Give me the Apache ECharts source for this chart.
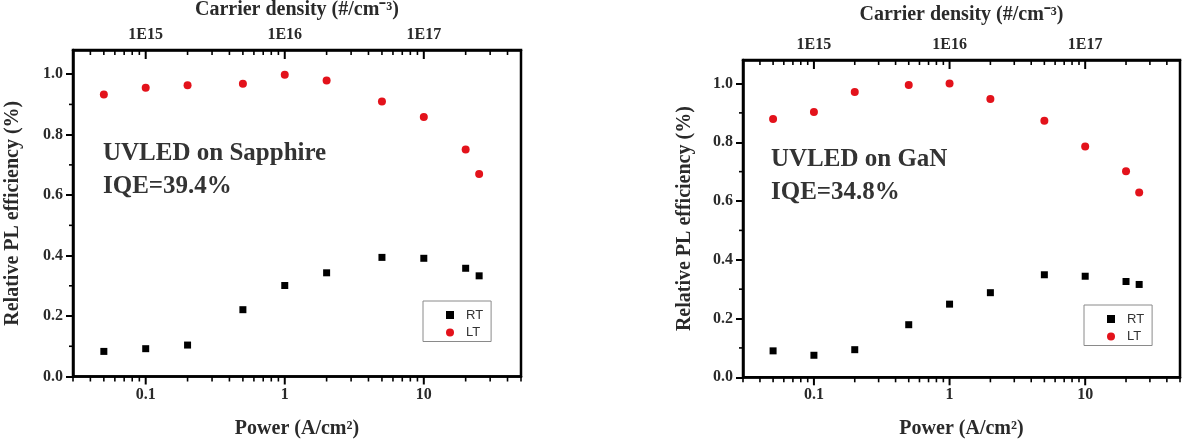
<!DOCTYPE html>
<html>
<head>
<meta charset="utf-8">
<script src="https://cdn.jsdelivr.net/npm/echarts@6.0.0/dist/echarts.min.js"></script>
<style>
  html, body { margin: 0; background: #fff; }
  #chart { width: 1191px; height: 444px; }
</style>
</head>
<body>
<div id="chart"></div>
<script>
// excitation power (A/cm2), same for both samples
const power = [0.05, 0.1, 0.2, 0.5, 1, 2, 5, 10, 20, 25];

// relative PL efficiency, RT = room temp, LT = low temp
const sapphireRT = [0.083, 0.092, 0.104, 0.221, 0.301, 0.343, 0.394, 0.391, 0.358, 0.333];
const sapphireLT = [0.933, 0.955, 0.963, 0.968, 0.998, 0.979, 0.910, 0.858, 0.751, 0.670];
const ganRT = [0.090, 0.075, 0.094, 0.179, 0.249, 0.288, 0.349, 0.344, 0.326, 0.316];
const ganLT = [0.879, 0.903, 0.971, 0.995, 1.0, 0.947, 0.873, 0.786, 0.701, 0.629];

// ticks
const powerTicks = [0.1, 1, 10];
const powerMinorTicks = [0.03, 0.04, 0.05, 0.06, 0.07, 0.08, 0.09,
  0.2, 0.3, 0.4, 0.5, 0.6, 0.7, 0.8, 0.9,
  2, 3, 4, 5, 6, 7, 8, 9,
  20, 30, 40, 50];
const yTicks = [0, 0.2, 0.4, 0.6, 0.8, 1.0];
const yMinorTicks = [0.1, 0.3, 0.5, 0.7, 0.9];

// top axis: carrier density per unit power (#/cm3 per A/cm2)
const densityPerPower = 1e16;

const X_MIN = 0.03, X_MAX = 50, Y_MAX = 1.08;
const SERIF = 'Liberation Serif';
const RED = '#e3121b';

const panels = [
  {
    grid: { left: 73, right: 670, top: 50, bottom: 67.5 },
    rt: sapphireRT, lt: sapphireLT, yNameGap: 50, topNameGap: 30,
    note: 'UVLED on Sapphire\nIQE=39.4%', noteLeft: 103, noteTop: 137,
    legendLeft: 423, legendTop: 301
  },
  {
    grid: { left: 743, right: 11, top: 60, bottom: 66.7 },
    rt: ganRT, lt: ganLT, yNameGap: 48, topNameGap: 35,
    note: 'UVLED on GaN\nIQE=34.8%', noteLeft: 771, noteTop: 143,
    legendLeft: 1084, legendTop: 305
  }
];

const labelStyle = { fontFamily: SERIF, fontWeight: 'bold', fontSize: 16, color: '#2a2a2a' };
const nameStyle = { fontFamily: SERIF, fontWeight: 'bold', fontSize: 20, color: '#2a2a2a' };

function isDecade(v) {
  const e = Math.log10(v);
  return Math.abs(e - Math.round(e)) < 1e-6;
}

// draws bottom (outward) and top (inward) x ticks
function renderXTicks(params, api) {
  const v = api.value(0);
  const major = api.value(1) === 1;
  const b = api.coord([v, 0]);
  const t = api.coord([v, Y_MAX]);
  const st = { stroke: '#000', lineWidth: major ? 2 : 1.6 };
  return {
    type: 'group',
    children: [
      { type: 'line', shape: { x1: b[0], y1: b[1], x2: b[0], y2: b[1] + (major ? 8 : 5) }, style: st },
      { type: 'line', shape: { x1: t[0], y1: t[1], x2: t[0], y2: t[1] + (major ? 9 : 5) }, style: st }
    ]
  };
}

// minor ticks on the left y axis
function renderYTicks(params, api) {
  const p = api.coord([X_MIN, api.value(1)]);
  return {
    type: 'line',
    shape: { x1: p[0], y1: p[1], x2: p[0] - 4, y2: p[1] },
    style: { stroke: '#000', lineWidth: 1.6 }
  };
}

const grid = [], xAxis = [], yAxis = [], series = [], legend = [], graphic = [];

panels.forEach((p, i) => {
  grid.push(Object.assign({
    show: true, borderColor: '#000', borderWidth: 2.5, backgroundColor: 'transparent',
    outerBoundsMode: 'none', containLabel: false
  }, p.grid));

  // bottom: power
  xAxis.push({
    type: 'log', gridIndex: i, position: 'bottom', min: X_MIN, max: X_MAX,
    name: 'Power (A/cm²)', nameLocation: 'middle', nameGap: 42, nameTextStyle: nameStyle,
    axisLine: { lineStyle: { color: '#000', width: 2.5 } },
    axisTick: { show: false },
    splitLine: { show: false },
    axisLabel: Object.assign({
      margin: 10,
      formatter: v => isDecade(v) ? String(+v.toPrecision(6)) : ''
    }, labelStyle)
  });
  // top: carrier density
  xAxis.push({
    type: 'log', gridIndex: i, position: 'top',
    min: X_MIN * densityPerPower, max: X_MAX * densityPerPower,
    name: 'Carrier density (#/cm⁻³)', nameLocation: 'middle', nameGap: p.topNameGap, nameTextStyle: nameStyle,
    axisLine: { lineStyle: { color: '#000', width: 2.5 } },
    axisTick: { show: false },
    splitLine: { show: false },
    axisLabel: Object.assign({
      margin: 7,
      formatter: v => isDecade(v) ? '1E' + Math.round(Math.log10(v)) : ''
    }, labelStyle)
  });

  yAxis.push({
    type: 'value', gridIndex: i, min: 0, max: Y_MAX,
    name: 'Relative PL efficiency (%)', nameLocation: 'middle', nameGap: p.yNameGap,
    nameRotate: 90, nameTextStyle: nameStyle,
    axisLine: { show: true, lineStyle: { color: '#000', width: 2.5 } },
    axisTick: { show: true, customValues: yTicks, length: 7, lineStyle: { color: '#000', width: 2 } },
    splitLine: { show: false },
    axisLabel: Object.assign({
      customValues: yTicks, margin: 10,
      formatter: v => v.toFixed(1)
    }, labelStyle)
  });

  series.push({
    name: 'RT', type: 'scatter', xAxisIndex: i * 2, yAxisIndex: i,
    symbol: 'rect', symbolSize: 7, itemStyle: { color: '#000', opacity: 1 },
    data: power.map((x, k) => [x, p.rt[k]])
  });
  series.push({
    name: 'LT', type: 'scatter', xAxisIndex: i * 2, yAxisIndex: i,
    symbol: 'circle', symbolSize: 8, itemStyle: { color: RED, opacity: 1 },
    data: power.map((x, k) => [x, p.lt[k]])
  });
  series.push({
    type: 'custom', xAxisIndex: i * 2, yAxisIndex: i, clip: false, z: 10, silent: true,
    renderItem: renderXTicks,
    data: powerTicks.map(v => [v, 1]).concat(powerMinorTicks.map(v => [v, 0]))
  });
  series.push({
    type: 'custom', xAxisIndex: i * 2, yAxisIndex: i, clip: false, z: 10, silent: true,
    renderItem: renderYTicks,
    data: yMinorTicks.map(v => [X_MIN, v])
  });

  legend.push({
    data: ['RT', 'LT'], orient: 'vertical', left: p.legendLeft, top: p.legendTop,
    itemWidth: 8, itemHeight: 8, itemGap: 3.5, padding: [7, 8, 2, 23],
    borderColor: '#8a8a8a', borderWidth: 1, selectedMode: false,
    textStyle: { fontFamily: 'Liberation Sans', fontSize: 13, color: '#333', lineHeight: 14, padding: [0, 0, 0, 7] }
  });

  graphic.push({
    type: 'text', left: p.noteLeft, top: p.noteTop, silent: true,
    style: { text: p.note, font: 'bold 25px "Liberation Serif"', fill: '#333', lineHeight: 33 }
  });
});

const chart = echarts.init(document.getElementById('chart'), null, { renderer: 'canvas' });
chart.setOption({
  animation: false,
  backgroundColor: '#fff',
  grid, xAxis, yAxis, series, legend, graphic
});
</script>
</body>
</html>
